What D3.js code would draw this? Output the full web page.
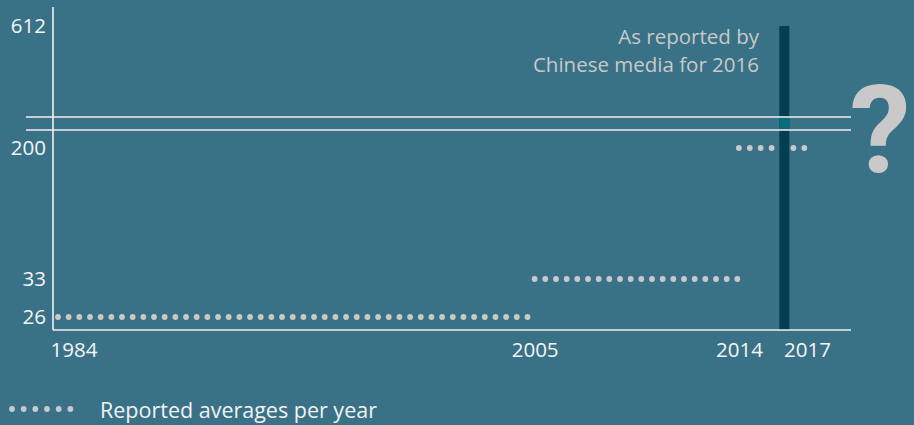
<!DOCTYPE html>
<html>
<head>
<meta charset="utf-8">
<script src="https://cdn.jsdelivr.net/npm/d3@7/dist/d3.min.js"></script>
<style>
  body { margin: 0; background: #397186; }
  svg { display: block; font-family: "Open Sans", Roboto, sans-serif; }
</style>
</head>
<body>
<div id="chart"></div>
<script>
// --------------------------------------
//  Data
// --------------------------------------

const yearTicks = [1984, 2005, 2014, 2017];
const valueTicks = [26, 33, 200, 612];

// reported averages, one flat run per period
const periodStart = [1984, 2005, 2014];
const periodEnd = [2005, 2014, 2017];
const periodValue = [26, 33, 200];

// single figure from Chinese media
const mediaYear = 2016;
const mediaValue = 612;

const noteLines = ["As reported by", "Chinese media for 2016"];
const legendLabel = "Reported averages per year";

// --------------------------------------
//  Canvas
// --------------------------------------

const width = 914;
const height = 425;
const axisLeft = 53;
const axisRight = 851;
const axisBottom = 330;
const axisTop = 7;
const breakY = [117, 130];
const fontSize = 20.5;

const svg = d3.select("#chart")
  .append("svg")
    .attr("width", width)
    .attr("height", height);

// --------------------------------------
//  Scales
// --------------------------------------

const x = d3.scaleLinear()
  .domain([1984, 2017])
  .range([58, 807]);

// broken axis: each tick gets its own stretch
const y = d3.scaleLinear()
  .domain(valueTicks)
  .range([317, 279, 148, 26]);

const dotColor = "#c9c9c9";

// --------------------------------------
//  Dotted series
// --------------------------------------

const periods = periodValue.map((v, i) => ({start: periodStart[i], end: periodEnd[i], value: v}));

svg.append("g")
  .selectAll("line")
  .data(periods)
  .join("line")
    .attr("x1", d => x(d.start))
    .attr("x2", d => x(d.end))
    .attr("y1", d => y(d.value))
    .attr("y2", d => y(d.value))
    .attr("stroke", dotColor)
    .attr("stroke-width", 5.8)
    .attr("stroke-linecap", "round")
    .attr("stroke-dasharray", (d, i) => i === 2 ? "0 10.9" : "0 10.67");

// --------------------------------------
//  Media bar
// --------------------------------------

const barW = 10;
svg.append("rect")
  .attr("x", x(mediaYear) - barW / 2)
  .attr("y", y(mediaValue))
  .attr("width", barW)
  .attr("height", axisBottom - y(mediaValue))
  .attr("fill", "#033f51");

svg.append("rect")
  .attr("x", x(mediaYear) - barW / 2)
  .attr("y", breakY[0])
  .attr("width", barW)
  .attr("height", breakY[1] - breakY[0])
  .attr("fill", "#0b6b7c");

// --------------------------------------
//  Axes
// --------------------------------------

svg.append("line")
  .attr("x1", axisLeft).attr("x2", axisLeft)
  .attr("y1", axisTop).attr("y2", axisBottom)
  .attr("stroke", "#f2f2f2").attr("stroke-width", 1.6);

svg.append("line")
  .attr("x1", axisLeft).attr("x2", axisRight)
  .attr("y1", axisBottom).attr("y2", axisBottom)
  .attr("stroke", "#f2f2f2").attr("stroke-width", 1.6);

svg.append("g")
  .selectAll("line")
  .data(breakY)
  .join("line")
    .attr("x1", 26).attr("x2", axisRight)
    .attr("y1", d => d).attr("y2", d => d)
    .attr("stroke", "#f2f2f2").attr("stroke-width", 1.4);

const yAxis = svg.append("g")
  .attr("transform", `translate(${axisLeft - 7}, 0)`)
  .call(d3.axisLeft(y).tickValues(valueTicks).tickSize(0).tickPadding(0).tickFormat(d3.format("d")));
yAxis.select(".domain").remove();
yAxis.selectAll("text")
  .attr("fill", "#f5f5f5")
  .attr("font-size", fontSize)
  .attr("font-family", "'Open Sans', sans-serif");

const xAxis = svg.append("g")
  .attr("transform", `translate(0, ${axisBottom + 12})`)
  .call(d3.axisBottom(x).tickValues(yearTicks).tickSize(0).tickPadding(0).tickFormat(d3.format("d")));
xAxis.select(".domain").remove();
xAxis.selectAll("text")
  .attr("fill", "#f5f5f5")
  .attr("font-size", fontSize)
  .attr("font-family", "'Open Sans', sans-serif")
  .attr("text-anchor", d => d === 1984 ? "start" : "middle")
  .attr("dx", d => d === 1984 ? -8 : 0);

// --------------------------------------
//  Annotations
// --------------------------------------

svg.append("text")
  .attr("x", 759)
  .attr("y", 44)
  .attr("text-anchor", "end")
  .attr("fill", "#c9c9c9")
  .attr("font-size", fontSize)
  .selectAll("tspan")
  .data(noteLines)
  .join("tspan")
    .attr("x", 759)
    .attr("dy", (d, i) => i === 0 ? 0 : 28)
    .text(d => d);

svg.append("text")
  .attr("x", 880)
  .attr("y", 172)
  .attr("text-anchor", "middle")
  .attr("fill", "#c9c9c9")
  .attr("font-size", 122)
  .attr("font-weight", "bold")
  .attr("font-family", "Roboto, sans-serif")
  .text("?");

// --------------------------------------
//  Legend
// --------------------------------------

svg.append("line")
  .attr("x1", 12).attr("x2", 82)
  .attr("y1", 409).attr("y2", 409)
  .attr("stroke", dotColor)
  .attr("stroke-width", 5.8)
  .attr("stroke-linecap", "round")
  .attr("stroke-dasharray", "0 11.67");

svg.append("text")
  .attr("x", 100)
  .attr("y", 418)
  .attr("fill", "#f2f2f2")
  .attr("font-size", 21.5)
  .text(legendLabel);
</script>
</body>
</html>
